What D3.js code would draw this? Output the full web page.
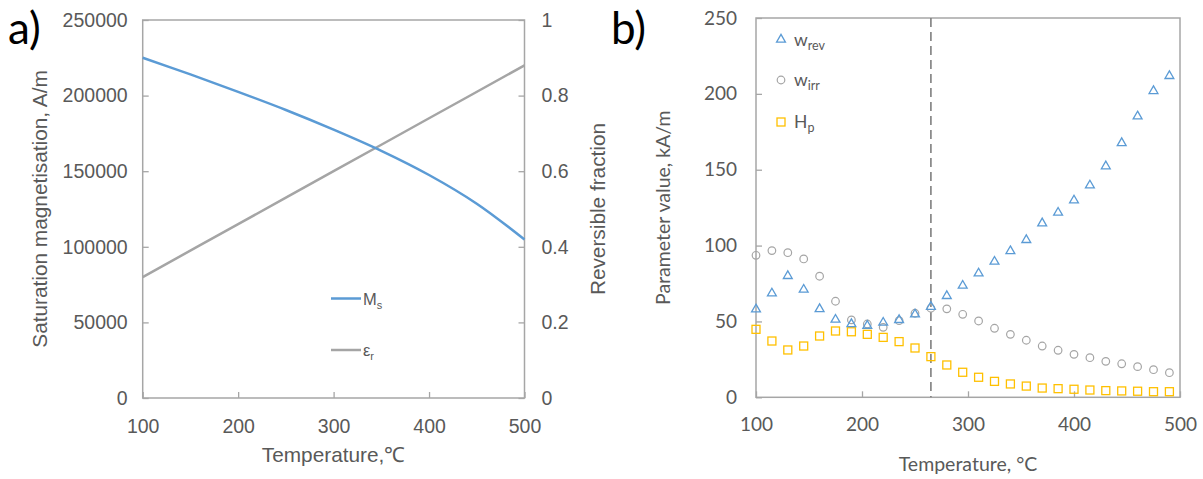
<!DOCTYPE html>
<html lang="en">
<head>
    <meta charset="UTF-8">
    <title>magnetisation and parameters</title>
    <script src="https://cdnjs.cloudflare.com/ajax/libs/d3/7.8.5/d3.min.js"></script>
    <style>
        body { margin: 0; background: #fff; }
        .frame { fill: none; stroke: #a6a6a6; stroke-width: 1.5; }
        .axis path { display: none; }
        .axis line { stroke: #a6a6a6; stroke-width: 1.3; }
        .axA text { font-family: "Liberation Sans", Arial, sans-serif; font-size: 19.5px; fill: #595959; }
        .axB text { font-family: Lato, "Open Sans", sans-serif; font-size: 19px; fill: #595959; }
        .titleA { font-family: "Liberation Sans", Arial, sans-serif; font-size: 20.8px; fill: #595959; }
        .titleB { font-family: Lato, "Open Sans", sans-serif; font-size: 19.5px; fill: #595959; }
        .panel { font-family: Lato, "Open Sans", sans-serif; font-size: 44px; fill: #000; }
    </style>
</head>
<body>
    <svg id="chart" width="1203" height="479"></svg>
    <script>
        // panel a) data
        const msTemps = [100, 150, 200, 250, 300, 350, 400, 450, 500];
        const msValues = [225000, 214000, 202500, 190500, 177500, 163500, 147500, 128500, 104800];
        const erTemps = [100, 200, 300, 400, 500];
        const erValues = [0.32, 0.46, 0.60, 0.74, 0.88];
        const ticksA = [0, 50000, 100000, 150000, 200000, 250000];
        const ticksA2 = [0, 0.2, 0.4, 0.6, 0.8, 1];
        const ticksT = [100, 200, 300, 400, 500];

        // panel b) data
        const pTemps = [100, 115, 130, 145, 160, 175, 190, 205, 220, 235, 250, 265, 280, 295,
            310, 325, 340, 355, 370, 385, 400, 415, 430, 445, 460, 475, 490];
        const wRev = [58, 68.5, 80, 71, 58.2, 51.2, 48.3, 47.2, 49.2, 51, 54.7, 59.7, 66.8, 73.6,
            81.7, 89.4, 96.4, 103.7, 114.7, 121.7, 129.8, 139.7, 152.3, 167.6, 185.2, 201.9, 211.8];
        const wIrr = [93.6, 96.7, 95.3, 91.2, 79.8, 63.3, 51, 48.3, 46.1, 50.5, 55.4, 58.7, 58.3, 54.7,
            50.3, 45.5, 41.5, 37.6, 33.8, 31, 28.3, 26.1, 23.7, 22.1, 20.2, 18.2, 16.2];
        const hP = [44.8, 37.1, 31.2, 33.8, 40.4, 43.7, 43.2, 41.5, 39.5, 36.7, 32.5, 26.8, 21.3, 16.5,
            13.2, 10.5, 8.8, 7.4, 6.1, 5.7, 5.3, 4.8, 4.4, 4.2, 4.0, 3.7, 3.7];
        const ticksB = [0, 50, 100, 150, 200, 250];
        const transitionT = 265;

        const blue = '#5b9bd5', grey = '#a5a5a5', gold = '#ffc000';
        const svg = d3.select('#chart');

        // ---------- panel a ----------
        const a = {left: 142.7, right: 524.5, top: 20, bottom: 398};
        const xA = d3.scaleLinear().domain([100, 500]).range([a.left, a.right]);
        const yA = d3.scaleLinear().domain([0, 250000]).range([a.bottom, a.top]);
        const yA2 = d3.scaleLinear().domain([0, 1]).range([a.bottom, a.top]);

        svg.append('rect').attr('class', 'frame')
            .attr('x', a.left).attr('y', a.top)
            .attr('width', a.right - a.left).attr('height', a.bottom - a.top);

        svg.append('g').attr('class', 'axis axA')
            .attr('transform', `translate(${a.left},0)`)
            .call(d3.axisLeft(yA).tickValues(ticksA).tickFormat(d3.format('d'))
                .tickSizeInner(-6).tickSizeOuter(0).tickPadding(15));
        svg.append('g').attr('class', 'axis axA')
            .attr('transform', `translate(${a.right},0)`)
            .call(d3.axisRight(yA2).tickValues(ticksA2).tickFormat(d3.format('~g'))
                .tickSizeInner(-6).tickSizeOuter(0).tickPadding(17));
        svg.append('g').attr('class', 'axis axA')
            .attr('transform', `translate(0,${a.bottom})`)
            .call(d3.axisBottom(xA).tickValues(ticksT).tickSizeInner(-6).tickSizeOuter(0).tickPadding(21));

        const lineA = d3.line().curve(d3.curveCatmullRom);
        svg.append('path')
            .attr('d', lineA(erTemps.map((t, i) => [xA(t), yA2(erValues[i])])))
            .attr('fill', 'none').attr('stroke', grey).attr('stroke-width', 2.5);
        svg.append('path')
            .attr('d', lineA(msTemps.map((t, i) => [xA(t), yA(msValues[i])])))
            .attr('fill', 'none').attr('stroke', blue).attr('stroke-width', 2.5);

        svg.append('text').attr('class', 'titleA')
            .attr('transform', `translate(40,${(a.top + a.bottom) / 2}) rotate(-90)`)
            .attr('text-anchor', 'middle').attr('dy', '0.35em')
            .text('Saturation magnetisation, A/m');
        svg.append('text').attr('class', 'titleA')
            .attr('transform', `translate(598,${(a.top + a.bottom) / 2}) rotate(-90)`)
            .attr('text-anchor', 'middle').attr('dy', '0.35em')
            .text('Reversible fraction');
        svg.append('text').attr('class', 'titleA')
            .attr('x', (a.left + a.right) / 2).attr('y', 462)
            .attr('text-anchor', 'middle')
            .text('Temperature,℃');

        // legend a
        const legA = [
            {name: 'M', sub: 's', color: blue, y: 298.5},
            {name: 'ε', sub: 'r', color: grey, y: 350}
        ];
        legA.forEach(d => {
            svg.append('line')
                .attr('x1', 331).attr('x2', 361).attr('y1', d.y).attr('y2', d.y)
                .attr('stroke', d.color).attr('stroke-width', 2.5);
            const t = svg.append('text').attr('class', 'titleA')
                .attr('x', 363).attr('y', d.y + 6).style('font-size', '16.5px');
            t.append('tspan').text(d.name);
            t.append('tspan').attr('dy', 4).style('font-size', '11px').text(d.sub);
        });

        svg.append('text').attr('class', 'panel').attr('x', 8).attr('y', 44).text('a)');

        // ---------- panel b ----------
        const b = {left: 756, right: 1180, top: 18, bottom: 397.3};
        const xB = d3.scaleLinear().domain([100, 500]).range([b.left, b.right]);
        const yB = d3.scaleLinear().domain([0, 250]).range([b.bottom, b.top]);

        svg.append('rect').attr('class', 'frame')
            .attr('x', b.left).attr('y', b.top)
            .attr('width', b.right - b.left).attr('height', b.bottom - b.top);

        svg.append('g').attr('class', 'axis axB')
            .attr('transform', `translate(${b.left},0)`)
            .call(d3.axisLeft(yB).tickValues(ticksB).tickSizeInner(-6).tickSizeOuter(0).tickPadding(19));
        svg.append('g').attr('class', 'axis axB')
            .attr('transform', `translate(0,${b.bottom})`)
            .call(d3.axisBottom(xB).tickValues(ticksT).tickSizeInner(-6).tickSizeOuter(0).tickPadding(20));

        // transition temperature
        svg.append('line')
            .attr('x1', xB(transitionT)).attr('x2', xB(transitionT))
            .attr('y1', b.top).attr('y2', b.bottom)
            .attr('stroke', '#7f7f7f').attr('stroke-width', 1.6)
            .attr('stroke-dasharray', '9,5');

        const tri = d3.symbol().type(d3.symbolTriangle).size(34);

        svg.append('g').selectAll('rect')
            .data(pTemps.map((t, i) => [t, hP[i]]))
            .enter().append('rect')
            .attr('x', d => xB(d[0]) - 4).attr('y', d => yB(d[1]) - 4)
            .attr('width', 8).attr('height', 8)
            .attr('fill', 'none').attr('stroke', gold).attr('stroke-width', 1.3);

        svg.append('g').selectAll('circle')
            .data(pTemps.map((t, i) => [t, wIrr[i]]))
            .enter().append('circle')
            .attr('cx', d => xB(d[0])).attr('cy', d => yB(d[1])).attr('r', 3.8)
            .attr('fill', 'none').attr('stroke', grey).attr('stroke-width', 1.2);

        svg.append('g').selectAll('path')
            .data(pTemps.map((t, i) => [t, wRev[i]]))
            .enter().append('path')
            .attr('d', tri)
            .attr('transform', d => `translate(${xB(d[0])},${yB(d[1])})`)
            .attr('fill', 'none').attr('stroke', blue).attr('stroke-width', 1.3);

        svg.append('text').attr('class', 'titleB')
            .attr('transform', `translate(663,${(b.top + b.bottom) / 2}) rotate(-90)`)
            .attr('text-anchor', 'middle').attr('dy', '0.35em')
            .text('Parameter value, kA/m');
        svg.append('text').attr('class', 'titleB')
            .attr('x', (b.left + b.right) / 2).attr('y', 471)
            .attr('text-anchor', 'middle')
            .text('Temperature, °C');

        // legend b
        const legB = [
            {name: 'w', sub: 'rev', y: 39.5, shape: 'tri', color: blue},
            {name: 'w', sub: 'irr', y: 80, shape: 'circle', color: grey},
            {name: 'H', sub: 'p', y: 122, shape: 'square', color: gold}
        ];
        legB.forEach(d => {
            if (d.shape === 'tri') {
                svg.append('path').attr('d', tri)
                    .attr('transform', `translate(781,${d.y})`)
                    .attr('fill', 'none').attr('stroke', d.color).attr('stroke-width', 1.3);
            } else if (d.shape === 'circle') {
                svg.append('circle').attr('cx', 781).attr('cy', d.y).attr('r', 3.8)
                    .attr('fill', 'none').attr('stroke', d.color).attr('stroke-width', 1.2);
            } else {
                svg.append('rect').attr('x', 777).attr('y', d.y - 4).attr('width', 8).attr('height', 8)
                    .attr('fill', 'none').attr('stroke', d.color).attr('stroke-width', 1.3);
            }
            const t = svg.append('text').attr('class', 'titleB')
                .attr('x', 794).attr('y', d.y + 6).style('font-size', '17.5px');
            t.append('tspan').text(d.name);
            t.append('tspan').attr('dy', 4).style('font-size', '12.5px').text(d.sub);
        });

        svg.append('text').attr('class', 'panel').attr('x', 611).attr('y', 44).text('b)');
    </script>
</body>
</html>
